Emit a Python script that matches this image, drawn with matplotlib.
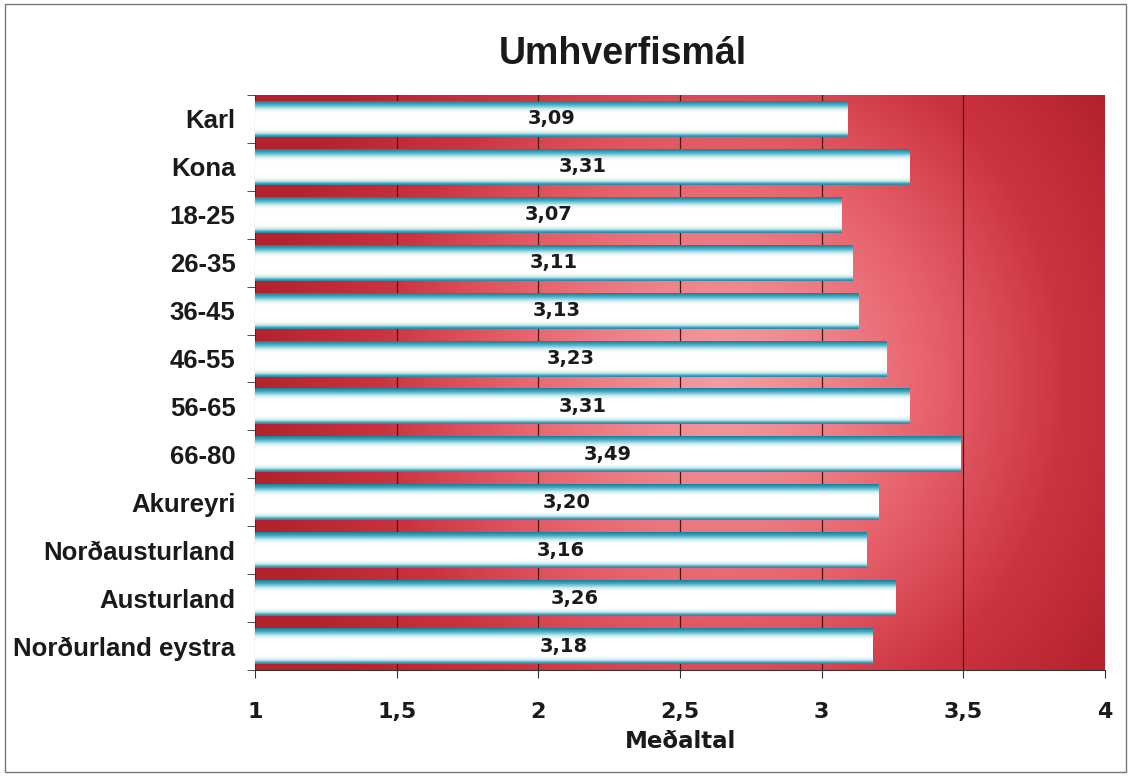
import numpy as np
import matplotlib
matplotlib.use("Agg")
import matplotlib.pyplot as plt
from matplotlib.colors import LinearSegmentedColormap
from matplotlib.patches import Rectangle

categories = ["Karl", "Kona", "18-25", "26-35", "36-45", "46-55", "56-65",
              "66-80", "Akureyri", "Norðausturland", "Austurland", "Norðurland eystra"]
values = [3.09, 3.31, 3.07, 3.11, 3.13, 3.23, 3.31, 3.49, 3.20, 3.16, 3.26, 3.18]
xticks = [1, 1.5, 2, 2.5, 3, 3.5, 4]

plt.rcParams['font.family'] = ['Liberation Sans', 'DejaVu Sans']

fig = plt.figure(figsize=(11.31, 7.76), dpi=100)
fig.patches.append(Rectangle((0.004, 0.005), 0.992, 0.99, transform=fig.transFigure,
                             fill=False, edgecolor='#777777', linewidth=1.0))
ax = fig.add_axes([0.2255, 0.1366, 0.7515, 0.741])

ypos = np.arange(len(categories))
ax.set_xlim(1, 4)
ax.set_ylim(len(categories) - 0.5, -0.5)

# radial background
nx, ny = 400, 300
gx, gy = np.meshgrid(np.linspace(0, 1, nx), np.linspace(0, 1, ny))
r = np.sqrt(((gx - 0.55) / 0.55) ** 2 + ((gy - 0.5) / 0.85) ** 2)
r = np.clip(r, 0, 1) ** 1.3
bg_cmap = LinearSegmentedColormap.from_list(
    "bg", ["#f39aa2", "#e8646e", "#cc3340", "#b4222c"])
ax.imshow(r, cmap=bg_cmap, extent=(0, 1, 0, 1), transform=ax.transAxes,
          aspect='auto', zorder=0, vmin=0, vmax=1)

for xv in xticks[1:-1]:
    ax.axvline(xv, color='#4a1418', linewidth=0.9, zorder=1)

bars = ax.barh(ypos, [v - 1 for v in values], left=1, height=0.75,
               color='none', edgecolor='none', zorder=2)

# vertical gradient for the bars: teal edges, white middle
t = np.linspace(0, 1, 60)
bar_cmap = LinearSegmentedColormap.from_list(
    "bar", [(0.0, "#1d7f98"), (0.08, "#3aa7bf"), (0.22, "#d8f0f4"), (0.32, "#ffffff"),
            (0.80, "#ffffff"), (0.90, "#c8e8ef"), (0.96, "#3aa7bf"), (1.0, "#2a8ba3")])
grad = t.reshape(-1, 1)
for b, v in zip(bars, values):
    x0, y0, w, h = b.get_x(), b.get_y(), b.get_width(), b.get_height()
    ax.imshow(grad, cmap=bar_cmap, extent=(x0, x0 + w, y0 + h, y0),
              aspect='auto', zorder=3, origin='upper', vmin=0, vmax=1)
    ax.text(x0 + w / 2, y0 + h / 2, f"{v:.2f}".replace('.', ','),
            ha='center', va='center', fontsize=14, fontweight='bold',
            family='DejaVu Sans', color='#1a1a1a', zorder=4)

ax.set_xlim(1, 4)
ax.set_ylim(len(categories) - 0.5, -0.5)

ax.set_yticks(ypos)
ax.set_yticklabels(categories, fontsize=18.5, fontweight='bold', color='#1a1a1a')
ax.set_yticks(np.arange(len(categories) + 1) - 0.5, minor=True)
ax.tick_params(axis='y', which='major', length=0, pad=14)
ax.tick_params(axis='y', which='minor', length=6, direction='out', color='#333333')
ax.set_xticks(xticks)
ax.set_xticklabels([str(x).replace('.', ',') if x % 1 else str(int(x)) for x in xticks],
                   fontsize=16, fontweight='bold', family='DejaVu Sans', color='#1a1a1a')
ax.tick_params(axis='x', length=6, direction='out', color='#333333', pad=17)

for s in ['top', 'right']:
    ax.spines[s].set_visible(False)
ax.spines['left'].set_color('#333333')
ax.spines['bottom'].set_color('#333333')

ax.set_xlabel("Meðaltal", fontsize=16.5, fontweight='bold', family='DejaVu Sans',
              color='#1a1a1a', labelpad=6)
fig.text(0.551, 0.930, "Umhverfismál", ha='center', va='center',
         fontsize=27, fontweight='bold', color='#1a1a1a')

fig.savefig("out.png", dpi=100)
